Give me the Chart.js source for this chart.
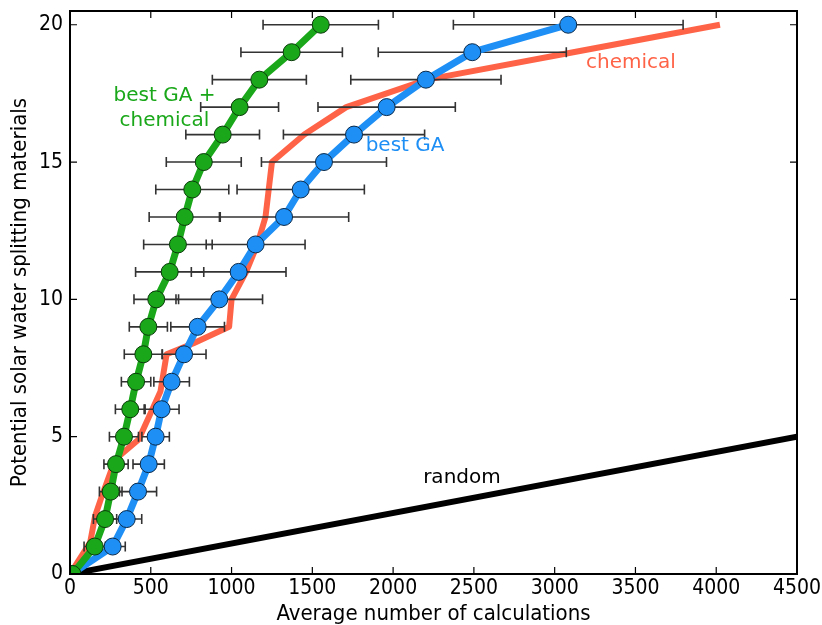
<!DOCTYPE html>
<html>
<head>
<meta charset="utf-8">
<script src="https://cdn.jsdelivr.net/npm/chart.js@4.4.1/dist/chart.umd.min.js"></script>
<style>
  html, body { margin: 0; padding: 0; background: #fff; }
  canvas { display: block; }
</style>
</head>
<body>
<canvas id="searchChart" width="822" height="625"></canvas>
<script>
// materials found (y) for each step of the search
const found = [0, 1, 2, 3, 4, 5, 6, 7, 8, 9, 10, 11, 12, 13, 14, 15, 16, 17, 18, 19, 20];

// best GA + chemical rules: mean calculations and spread
const gaChemMean = [15, 153, 217, 252, 285, 334, 373, 409, 454, 485, 534, 617, 668, 710, 757, 828, 945, 1050, 1172, 1372, 1552];
const gaChemErr = [0, 66, 72, 70, 75, 90, 92, 91, 118, 118, 138, 211, 212, 220, 226, 232, 228, 241, 291, 314, 357];

// best GA alone
const gaMean = [10, 264, 351, 421, 487, 530, 567, 629, 706, 790, 924, 1044, 1149, 1325, 1428, 1572, 1758, 1960, 2203, 2490, 3084];
const gaErr = [0, 78, 93, 115, 97, 85, 108, 110, 136, 166, 268, 293, 306, 400, 394, 387, 437, 425, 465, 582, 711];

// chemical ranking only
const chemCalc = [0, 125, 155, 195, 260, 305, 425, 560, 598, 765, 985, 1000, 1090, 1160, 1210, 1230, 1250, 1450, 1710, 2210, 3115, 4023];
const chemFound = [0, 1.15, 2.1, 2.8, 3.85, 4.3, 4.9, 6.65, 8.0, 8.4, 9.0, 10, 11, 12, 13, 14, 15, 16, 17, 18, 19, 20];

// random screening
const randomCalc = [0, 4500];
const randomFound = [0, 5];

const xTicks = [0, 500, 1000, 1500, 2000, 2500, 3000, 3500, 4000, 4500];
const yTicks = [0, 5, 10, 15, 20];

const GREEN = "#1aa81a";
const BLUE = "#1e8ff5";
const RED = "#ff6347";

const toPoints = (xs, ys) => xs.map((x, i) => ({ x: x, y: ys[i] }));

// text labels placed next to each curve (data coordinates)
const curveLabels = [
  { lines: ["best GA +", "chemical"], x: 585, y: 17.4, color: GREEN },
  { lines: ["best GA"], x: 2074, y: 15.6, color: BLUE },
  { lines: ["chemical"], x: 3472, y: 18.62, color: RED },
  { lines: ["random"], x: 2426, y: 3.5, color: "#000" },
];

const CHEM_INDEX = 1;

// horizontal error bars, drawn right after the chemical line so the
// GA curves sit on top of them
const errorBars = {
  id: "errorBars",
  afterDatasetDraw(chart, args) {
    if (args.index !== CHEM_INDEX) return;
    const { ctx, scales } = chart;
    const sx = scales.x, sy = scales.y;
    const sets = [
      [gaMean, gaErr],
      [gaChemMean, gaChemErr],
    ];
    ctx.save();
    ctx.strokeStyle = "#333";
    ctx.lineWidth = 1.6;
    sets.forEach(([mean, err]) => {
      mean.forEach((m, i) => {
        if (!err[i]) return;
        const y = sy.getPixelForValue(found[i]);
        const x0 = sx.getPixelForValue(m - err[i]);
        const x1 = sx.getPixelForValue(m + err[i]);
        ctx.beginPath();
        ctx.moveTo(x0, y);
        ctx.lineTo(x1, y);
        ctx.moveTo(x0, y - 5);
        ctx.lineTo(x0, y + 5);
        ctx.moveTo(x1, y - 5);
        ctx.lineTo(x1, y + 5);
        ctx.stroke();
      });
    });
    ctx.restore();
  },
};

// box around the plot with inward tick marks on every side
const frame = {
  id: "frame",
  afterDraw(chart) {
    const { ctx, chartArea: a, scales } = chart;
    ctx.save();
    ctx.strokeStyle = "#000";
    ctx.lineWidth = 1.2;
    ctx.beginPath();
    xTicks.forEach((v) => {
      const x = scales.x.getPixelForValue(v);
      ctx.moveTo(x, a.bottom);
      ctx.lineTo(x, a.bottom - 7);
      ctx.moveTo(x, a.top);
      ctx.lineTo(x, a.top + 7);
    });
    yTicks.forEach((v) => {
      const y = scales.y.getPixelForValue(v);
      ctx.moveTo(a.left, y);
      ctx.lineTo(a.left + 7, y);
      ctx.moveTo(a.right, y);
      ctx.lineTo(a.right - 7, y);
    });
    ctx.stroke();
    ctx.lineWidth = 2;
    ctx.strokeRect(a.left, a.top, a.right - a.left, a.bottom - a.top);

    ctx.font = '20px "DejaVu Sans", Verdana, sans-serif';
    ctx.textAlign = "center";
    ctx.textBaseline = "middle";
    curveLabels.forEach((lab) => {
      ctx.fillStyle = lab.color;
      const x = scales.x.getPixelForValue(lab.x);
      const y = scales.y.getPixelForValue(lab.y);
      lab.lines.forEach((t, k) => ctx.fillText(t, x, y + k * 25));
    });
    ctx.restore();
  },
};

const tickFont = { family: '"DejaVu Sans Condensed", "DejaVu Sans", sans-serif', size: 21 };
const titleFont = { family: '"DejaVu Sans Condensed", "DejaVu Sans", sans-serif', size: 22 };

new Chart(document.getElementById("searchChart"), {
  type: "line",
  data: {
    datasets: [
      {
        label: "random",
        data: toPoints(randomCalc, randomFound),
        borderColor: "#000",
        borderWidth: 6,
        pointRadius: 0,
        order: 4,
      },
      {
        label: "chemical",
        data: toPoints(chemCalc, chemFound),
        borderColor: RED,
        borderWidth: 6,
        pointRadius: 0,
        order: 3,
      },
      {
        label: "best GA",
        data: toPoints(gaMean, found),
        borderColor: BLUE,
        borderWidth: 7,
        pointRadius: 8.5,
        pointBackgroundColor: BLUE,
        pointBorderColor: "#0a2a4a",
        pointBorderWidth: 1,
        order: 2,
      },
      {
        label: "best GA + chemical",
        data: toPoints(gaChemMean, found),
        borderColor: GREEN,
        borderWidth: 7,
        pointRadius: 8.5,
        pointBackgroundColor: GREEN,
        pointBorderColor: "#0a3a0a",
        pointBorderWidth: 1,
        order: 1,
      },
    ],
  },
  options: {
    responsive: false,
    animation: false,
    layout: { padding: { top: 11, right: 25, left: 0, bottom: 0 } },
    plugins: { legend: { display: false }, tooltip: { enabled: false } },
    elements: { line: { tension: 0, borderJoinStyle: "round", borderCapStyle: "butt" } },
    scales: {
      x: {
        type: "linear",
        min: 0,
        max: 4500,
        grid: { display: false, drawTicks: false },
        border: { display: false },
        afterBuildTicks: (s) => { s.ticks = xTicks.map((v) => ({ value: v })); },
        afterFit: (s) => { s.height = 51; s.paddingLeft = 0; s.paddingRight = 0; },
        ticks: { color: "#000", font: tickFont, padding: 2, maxRotation: 0, callback: (v) => String(v) },
        title: {
          display: true,
          text: "Average number of calculations",
          color: "#000",
          font: titleFont,
          padding: { top: 0, bottom: -2 },
        },
      },
      y: {
        type: "linear",
        min: 0,
        max: 20.5,
        grid: { display: false, drawTicks: false },
        border: { display: false },
        afterBuildTicks: (s) => { s.ticks = yTicks.map((v) => ({ value: v })); },
        afterFit: (s) => { s.width = 70; s.paddingTop = 0; s.paddingBottom = 0; },
        ticks: { color: "#000", font: tickFont, padding: 7, callback: (v) => String(v) },
        title: {
          display: true,
          text: "Potential solar water splitting materials",
          color: "#000",
          font: titleFont,
          padding: { top: 7, bottom: 0 },
        },
      },
    },
  },
  plugins: [errorBars, frame],
});
</script>
</body>
</html>
